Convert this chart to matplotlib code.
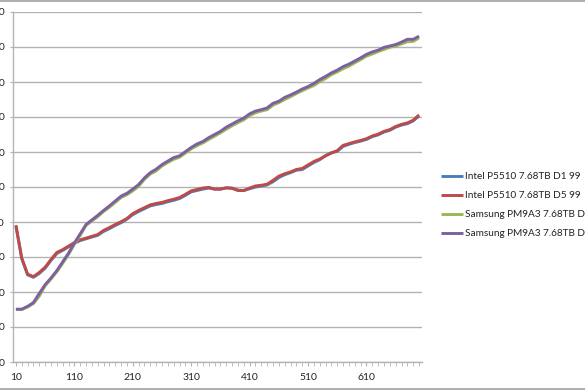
import matplotlib
matplotlib.use("Agg")
import matplotlib.pyplot as plt
from matplotlib.lines import Line2D

W, H = 585, 390

x_vals = list(range(10, 701, 10))

intel_d1 = [388, 295, 249, 242, 253, 268, 290, 310, 319, 329,
            339, 347, 352, 357, 362, 373, 381, 390, 398, 408,
            421, 430, 438, 446, 450, 453, 458, 462, 467, 476,
            486, 490, 494, 497, 494, 494, 497, 497, 491, 490,
            495, 500, 503, 506, 515, 527, 535, 541, 548, 550,
            560, 570, 578, 590, 598, 602, 616, 622, 627, 631,
            636, 644, 649, 657, 662, 671, 677, 681, 689, 703]
intel_d5 = [391, 297, 251, 244, 256, 271, 293, 313, 321, 331,
            341, 349, 354, 359, 364, 376, 384, 393, 401, 410,
            424, 433, 441, 449, 453, 456, 461, 465, 470, 479,
            489, 493, 497, 499, 494, 494, 498, 496, 490, 490,
            497, 503, 505, 508, 519, 531, 538, 543, 550, 553,
            563, 573, 580, 589, 597, 604, 619, 624, 629, 633,
            638, 646, 651, 659, 664, 673, 679, 683, 691, 706]
samsung_d1 = [150, 150, 157, 167, 188, 218, 237, 258, 282, 307,
              336, 362, 390, 403, 415, 430, 442, 456, 470, 478,
              489, 502, 522, 537, 546, 560, 570, 579, 585, 597,
              609, 618, 626, 636, 645, 655, 665, 675, 684, 692,
              704, 712, 717, 721, 734, 741, 750, 758, 767, 775,
              783, 790, 801, 810, 821, 829, 838, 845, 855, 864,
              874, 880, 887, 893, 899, 903, 909, 915, 916, 926]
samsung_d5 = [151, 151, 159, 170, 196, 221, 240, 261, 286, 311,
              340, 366, 393, 406, 419, 433, 446, 460, 474, 482,
              494, 507, 526, 541, 551, 564, 574, 584, 589, 601,
              613, 623, 630, 641, 650, 659, 671, 680, 689, 697,
              709, 717, 721, 726, 739, 745, 756, 763, 771, 780,
              787, 796, 807, 816, 826, 834, 844, 851, 860, 869,
              879, 886, 891, 899, 903, 907, 914, 922, 922, 931]

series_names = ["Intel P5510 7.68TB D1 99", "Intel P5510 7.68TB D5 99",
                "Samsung PM9A3 7.68TB D1 99", "Samsung PM9A3 7.68TB D5 99"]
series_values = [intel_d1, intel_d5, samsung_d1, samsung_d5]
series_colors = ["#4A7EBB", "#BE4B48", "#98B954", "#7D60A0"]

y_ticks = list(range(0, 1001, 100))
x_label_ticks = list(range(10, 701, 100))

FONT = ["Lato", "DejaVu Sans"]
plt.rcParams["font.family"] = FONT

fig = plt.figure(figsize=(W / 100, H / 100), dpi=100)
ax = fig.add_axes([13 / W, 1 - 362 / H, (422 - 13) / W, (362 - 12) / H])

for vals, name, col in zip(series_values, series_names, series_colors):
    ax.plot(x_vals, vals, color=col, lw=2.1, label=name,
            solid_joinstyle="round", solid_capstyle="butt")

ax.set_xlim(5, 705)
ax.set_ylim(0, 1000)
ax.set_yticks(y_ticks)
ax.set_yticklabels([str(v) for v in y_ticks])
ax.set_xticks(x_label_ticks)
ax.set_xticklabels([str(v) for v in x_label_ticks])
ax.set_xticks(x_vals, minor=True)

ax.grid(axis="y", color="#b3b3b3", lw=1.0)
ax.set_axisbelow(True)
for s in ["top", "right"]:
    ax.spines[s].set_visible(False)
ax.spines["left"].set_color("#b3b3b3")
ax.spines["bottom"].set_color("#b3b3b3")
ax.spines["left"].set_linewidth(1.0)
ax.spines["bottom"].set_linewidth(1.0)

ax.tick_params(axis="y", length=2.5, color="#b3b3b3", labelsize=7.5, pad=3.3,
               labelcolor="#222222")
ax.tick_params(axis="x", which="major", length=3, color="#b3b3b3", labelsize=7.5,
               pad=5, labelcolor="#222222")
ax.tick_params(axis="x", which="minor", length=3, color="#b3b3b3")

leg = ax.legend(loc="upper left", bbox_to_anchor=(441 / W, 1 - 172 / H),
                bbox_transform=fig.transFigure, frameon=False, fontsize=7.2,
                handlelength=2.2, handletextpad=0.2, labelspacing=1.0,
                borderpad=0, borderaxespad=0)
for t in leg.get_texts():
    t.set_color("#222222")

# chart-area border lines (top and bottom)
fig.add_artist(Line2D([0, 1], [1 - 0.5 / H, 1 - 0.5 / H], transform=fig.transFigure,
                      color="#a0a0a0", lw=1.2))
fig.add_artist(Line2D([0, 1], [1 - 389 / H, 1 - 389 / H], transform=fig.transFigure,
                      color="#a0a0a0", lw=1.2))

fig.savefig("out.png", dpi=100)
